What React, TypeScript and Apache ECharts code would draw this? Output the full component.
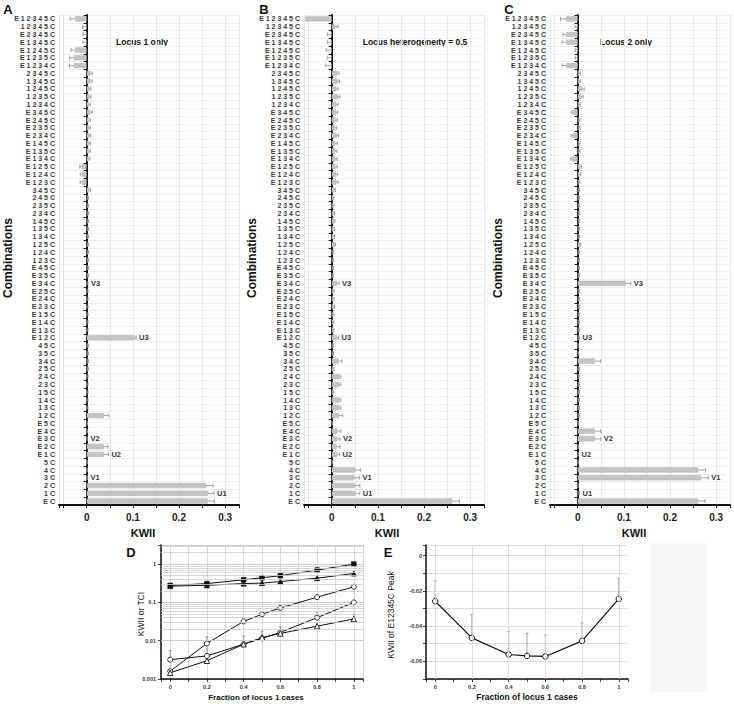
import React, { useEffect, useRef } from "react";
import * as echarts from "echarts";

const FONT = '"Liberation Sans", Arial, sans-serif';

// ---------- Panels A, B, C ----------
const combinations = [
  "E12345C", "12345C", "E2345C", "E1345C", "E1245C", "E1235C", "E1234C",
  "2345C", "1345C", "1245C", "1235C", "1234C",
  "E345C", "E245C", "E235C", "E234C", "E145C", "E135C", "E134C", "E125C", "E124C", "E123C",
  "345C", "245C", "235C", "234C", "145C", "135C", "134C", "125C", "124C", "123C",
  "E45C", "E35C", "E34C", "E25C", "E24C", "E23C", "E15C", "E14C", "E13C", "E12C",
  "45C", "35C", "34C", "25C", "24C", "23C", "15C", "14C", "13C", "12C",
  "E5C", "E4C", "E3C", "E2C", "E1C",
  "5C", "4C", "3C", "2C", "1C",
  "EC",
];

const kwiiLocus1Only = [
  -0.025, -0.001, -0.001, -0.001, -0.025, -0.028, -0.028,
  0.008, 0.008, 0.006, 0.006, 0.005,
  0.008, 0.005, 0.005, 0.006, 0.005, 0.005, 0.004, -0.011, -0.01, -0.01,
  0.005, 0.002, 0.002, 0.002, 0.002, 0.002, 0.002, 0.002, 0.002, 0.002,
  0.002, 0.002, 0.001, 0.001, 0.001, 0.001, 0.001, 0.001, 0.001, 0.104,
  0.002, 0.002, 0.002, 0.002, 0.001, 0.001, 0.001, 0.001, 0.001, 0.037,
  0.001, 0.001, 0.001, 0.037, 0.038,
  0.0005, 0.0005, 0.001, 0.258, 0.263,
  0.262,
];
const errLocus1Only = [
  0.011, 0.008, 0.007, 0.007, 0.009, 0.009, 0.009,
  0.004, 0.004, 0.003, 0.003, 0.003,
  0.004, 0.003, 0.003, 0.003, 0.003, 0.003, 0.003, 0.004, 0.004, 0.004,
  0.003, 0.002, 0.002, 0.002, 0.002, 0.002, 0.002, 0.002, 0.002, 0.002,
  0.002, 0.002, 0.002, 0.002, 0.002, 0.002, 0.002, 0.002, 0.002, 0.003,
  0.002, 0.002, 0.002, 0.002, 0.002, 0.002, 0.002, 0.002, 0.002, 0.011,
  0.001, 0.001, 0.001, 0.009, 0.009,
  0.001, 0.001, 0.001, 0.016, 0.013,
  0.015,
];

const kwiiHeterogeneity = [
  -0.057, 0.007, -0.001, -0.001, -0.001, -0.001, -0.001,
  0.012, 0.013, 0.01, 0.014, 0.01,
  0.009, 0.008, 0.007, 0.011, 0.008, 0.007, 0.008, 0.008, 0.009, 0.01,
  0.006, 0.003, 0.003, 0.004, 0.005, 0.004, 0.004, 0.006, 0.002, 0.002,
  0.002, 0.002, 0.012, 0.003, 0.003, 0.004, 0.003, 0.003, 0.003, 0.011,
  0.002, 0.002, 0.015, 0.003, 0.017, 0.017, 0.003, 0.017, 0.017, 0.016,
  0.001, 0.012, 0.012, 0.011, 0.012,
  0.001, 0.051, 0.049, 0.051, 0.051,
  0.261,
];
const errHeterogeneity = [
  0, 0.007, 0.008, 0.008, 0.011, 0.009, 0.012,
  0.004, 0.004, 0.004, 0.004, 0.004,
  0.004, 0.004, 0.004, 0.004, 0.004, 0.004, 0.004, 0.004, 0.004, 0.004,
  0.002, 0.002, 0.002, 0.002, 0.002, 0.002, 0.002, 0.002, 0.002, 0.002,
  0.002, 0.002, 0.004, 0.002, 0.002, 0.002, 0.002, 0.002, 0.002, 0.004,
  0.002, 0.002, 0.007, 0.002, 0.003, 0.003, 0.002, 0.003, 0.003, 0.008,
  0.001, 0.008, 0.006, 0.007, 0.005,
  0.001, 0.011, 0.011, 0.01, 0.01,
  0.016,
];

const kwiiLocus2Only = [
  -0.025, -0.001, -0.025, -0.025, -0.001, -0.001, -0.025,
  0.003, 0.003, 0.009, 0.008, 0.003,
  -0.011, 0.002, 0.002, -0.011, 0.002, 0.002, -0.012, 0.005, 0.003, 0.002,
  0.002, 0.002, 0.002, 0.002, 0.002, 0.002, 0.002, 0.005, 0.002, 0.002,
  0.002, 0.002, 0.104, 0.002, 0.002, 0.002, 0.002, 0.002, 0.002, 0.002,
  0.001, 0.001, 0.037, 0.002, 0.002, 0.002, 0.002, 0.002, 0.002, 0.002,
  0.001, 0.037, 0.037, 0.001, 0.001,
  0.001, 0.261, 0.267, 0.001, 0.001,
  0.261,
];
const errLocus2Only = [
  0.012, 0.005, 0.007, 0.009, 0.005, 0.005, 0.009,
  0.003, 0.003, 0.005, 0.004, 0.003,
  0.003, 0.003, 0.003, 0.003, 0.003, 0.003, 0.003, 0.003, 0.003, 0.003,
  0.002, 0.002, 0.002, 0.002, 0.002, 0.002, 0.002, 0.002, 0.002, 0.002,
  0.002, 0.002, 0.011, 0.002, 0.002, 0.002, 0.002, 0.002, 0.002, 0.002,
  0.001, 0.001, 0.013, 0.002, 0.002, 0.002, 0.002, 0.002, 0.002, 0.002,
  0.001, 0.013, 0.013, 0.001, 0.001,
  0.001, 0.016, 0.016, 0.001, 0.003,
  0.015,
];

const markedCombinations = ["E34C", "E12C", "E3C", "E1C", "3C", "1C"];
const markNames = ["V3", "U3", "V2", "U2", "V1", "U1"];
const barTickLabels = ["0", "0.1", "0.2", "0.3"];
const panelLetters = ["A", "B", "C"];
const panelNotes = ["Locus 1 only", "Locus heterogeneity = 0.5", "Locus 2 only"];

// ---------- Panels D, E ----------
const fractions = [0, 0.2, 0.4, 0.5, 0.6, 0.8, 1];
const dFilledSquares = [0.278, 0.31, 0.39, 0.44, 0.5, 0.7, 1.0];
const dFilledTriangles = [0.267, 0.28, 0.31, 0.32, 0.35, 0.43, 0.57];
const dOpenCirclesUpper = [0.0016, 0.0085, 0.032, 0.049, 0.072, 0.137, 0.256];
const dOpenCirclesLower = [0.0032, 0.004, 0.0081, 0.0115, 0.0165, 0.04, 0.1];
const dOpenTriangles = [0.00145, 0.003, 0.0081, 0.012, 0.0155, 0.024, 0.037];
const dOpenCirclesUpperErr = [null, 0.0126, null, 0.057, null, null, null];
const dOpenCirclesLowerErr = [0.0055, 0.0061, 0.0132, 0.0178, 0.023, 0.057, null];
const dOpenTrianglesErr = [null, null, null, null, null, null, 0.0495];
const dTickLabels = ["0.001", "0.01", "0.1", "1"];
const fractionTickLabels = ["0", "0.2", "0.4", "0.6", "0.8", "1"];

const ePeak = [-0.0259, -0.0467, -0.0561, -0.0569, -0.0572, -0.0484, -0.0246];
const ePeakErrTop = [-0.0143, -0.0334, -0.0432, -0.0441, -0.045, -0.0381, -0.0131];
const eTickLabels = ["-0.06", "-0.04", "-0.02", "0"];

function spaced(s: string) {
  return s.split("").join(" ");
}

function buildOption() {
  const barPanels = [
    { vals: kwiiLocus1Only, errs: errLocus1Only, left: 59 },
    { vals: kwiiHeterogeneity, errs: errHeterogeneity, left: 304 },
    { vals: kwiiLocus2Only, errs: errLocus2Only, left: 550 },
  ];

  const grid: any[] = barPanels.map((p) => ({ left: p.left, top: 15, width: 180, height: 490 }));
  grid.push({ left: 161, top: 545, width: 202, height: 134 });
  grid.push({ left: 426, top: 545, width: 202, height: 134 });

  const xAxis: any[] = [];
  const yAxis: any[] = [];
  const series: any[] = [];

  barPanels.forEach((p, i) => {
    xAxis.push({
      gridIndex: i,
      type: "value",
      min: -0.06,
      max: 0.33,
      splitNumber: 8,
      axisLine: { show: true, onZero: false, lineStyle: { color: "#111", width: 2 } },
      axisTick: { show: true, length: 3, lineStyle: { color: "#111", width: 1 } },
      axisLabel: {
        fontSize: 10,
        fontWeight: "bold",
        color: "#222",
        fontFamily: FONT,
        margin: 7,
        formatter: (v: number) => {
          const s = String(+v.toFixed(4));
          return barTickLabels.includes(s) ? s : "";
        },
      },
      splitLine: { show: true, lineStyle: { color: "#e8e8e8", width: 1 } },
    });
    yAxis.push({
      gridIndex: i,
      type: "category",
      inverse: true,
      data: combinations.map(spaced),
      axisLine: { show: true, lineStyle: { color: "#111", width: 2 } },
      axisTick: { show: true, length: 3, lineStyle: { color: "#111", width: 1 } },
      axisLabel: {
        interval: 0,
        fontSize: 7,
        fontWeight: "bold",
        color: "#3a3a3a",
        fontFamily: FONT,
        margin: 4,
        padding: [8, 0, 0, 0],
      },
      splitLine: { show: true, lineStyle: { color: "#efefef", width: 1 } },
    });
    series.push({
      type: "bar",
      xAxisIndex: i,
      yAxisIndex: i,
      data: p.vals,
      barWidth: "66%",
      itemStyle: { color: "#c3c3c3", borderColor: "#b0b0b0", borderWidth: 0.5 },
      z: 2,
    });
    series.push({
      type: "custom",
      xAxisIndex: i,
      yAxisIndex: i,
      z: 3,
      encode: { x: 0, y: 1 },
      data: p.vals.map((v, k) => [v, k, p.errs[k]]),
      renderItem: (params: any, api: any) => {
        const v = api.value(0);
        const k = api.value(1);
        const e = api.value(2);
        const end = v + (v < 0 ? -e : e);
        const a = api.coord([v, k]);
        const b = api.coord([end, k]);
        const children: any[] = [];
        if (e > 0) {
          children.push({
            type: "line",
            shape: { x1: a[0], y1: a[1], x2: b[0], y2: b[1] },
            style: { stroke: "#8c8c8c", lineWidth: 0.8 },
          });
          children.push({
            type: "line",
            shape: { x1: b[0], y1: b[1] - 2, x2: b[0], y2: b[1] + 2 },
            style: { stroke: "#8c8c8c", lineWidth: 0.8 },
          });
        }
        const mi = markedCombinations.indexOf(combinations[params.dataIndex]);
        if (mi >= 0) {
          const t = api.coord([Math.max(v, end, 0), k]);
          children.push({
            type: "text",
            x: t[0] + 3,
            y: t[1],
            style: {
              text: markNames[mi],
              fill: "#333",
              font: `bold 7.5px ${FONT}`,
              textAlign: "left",
              textVerticalAlign: "middle",
            },
          });
        }
        return { type: "group", children };
      },
    });
  });

  // Panel D axes
  xAxis.push({
    gridIndex: 3,
    type: "value",
    min: -0.05,
    max: 1.05,
    splitNumber: 11,
    axisLine: { show: true, onZero: false, lineStyle: { color: "#111", width: 1.5 } },
    axisTick: { show: true, length: 3, lineStyle: { color: "#111", width: 0.8 } },
    axisLabel: {
      fontSize: 5.5,
      fontWeight: "bold",
      color: "#333",
      fontFamily: FONT,
      margin: 5,
      formatter: (v: number) => {
        const s = String(+v.toFixed(4));
        return fractionTickLabels.includes(s) ? s : "";
      },
    },
    splitLine: { show: true, lineStyle: { color: "#cfcfcf", width: 0.8 } },
  });
  yAxis.push({
    gridIndex: 3,
    type: "log",
    logBase: 10,
    min: 0.001,
    max: 3.16,
    axisLine: { show: true, onZero: false, lineStyle: { color: "#111", width: 1.5 } },
    axisTick: { show: true, length: 3, lineStyle: { color: "#111", width: 0.8 } },
    axisLabel: {
      fontSize: 5.5,
      fontWeight: "bold",
      color: "#333",
      fontFamily: FONT,
      margin: 5,
      formatter: (v: number) => {
        const s = String(+v.toPrecision(6));
        return dTickLabels.includes(s) ? s : "";
      },
    },
    splitLine: { show: true, lineStyle: { color: "#bdbdbd", width: 0.8 } },
  });

  // Panel E axes
  xAxis.push({
    gridIndex: 4,
    type: "value",
    min: -0.05,
    max: 1.05,
    splitNumber: 11,
    axisLine: { show: true, onZero: false, lineStyle: { color: "#111", width: 1.5 } },
    axisTick: { show: true, length: 3, lineStyle: { color: "#111", width: 0.8 } },
    axisLabel: {
      fontSize: 5.5,
      fontWeight: "bold",
      color: "#333",
      fontFamily: FONT,
      margin: 5,
      formatter: (v: number) => {
        const s = String(+v.toFixed(4));
        return fractionTickLabels.includes(s) ? s : "";
      },
    },
    splitLine: { show: false },
  });
  yAxis.push({
    gridIndex: 4,
    type: "value",
    min: -0.07,
    max: 0.006,
    interval: 0.01,
    axisLine: { show: true, onZero: false, lineStyle: { color: "#111", width: 1.5 } },
    axisTick: { show: true, length: 3, lineStyle: { color: "#111", width: 0.8 } },
    axisLabel: {
      fontSize: 5.5,
      fontWeight: "bold",
      color: "#333",
      fontFamily: FONT,
      margin: 4,
      formatter: (v: number) => {
        const s = String(+v.toFixed(4));
        return eTickLabels.includes(s) ? s : "";
      },
    },
    splitLine: { show: true, lineStyle: { color: "#d4d4d4", width: 0.8 } },
  });

  // D minor log grid lines
  const logMinor: number[] = [];
  [0.001, 0.01, 0.1, 1].forEach((d) => {
    for (let m = 2; m <= 9; m++) {
      const v = +(d * m).toPrecision(3);
      if (v < 3.16) logMinor.push(v);
    }
  });
  series.push({
    type: "line",
    xAxisIndex: 3,
    yAxisIndex: 3,
    data: [],
    z: 1,
    markLine: {
      silent: true,
      symbol: ["none", "none"],
      label: { show: false },
      lineStyle: { color: "#cdcdcd", width: 0.8, type: "solid" },
      data: logMinor.map((v) => ({ yAxis: v })),
    },
  });

  const dSeries = [
    { vals: dFilledSquares, symbol: "rect", fill: "#111", size: 4.5 },
    { vals: dFilledTriangles, symbol: "triangle", fill: "#111", size: 5 },
    { vals: dOpenCirclesUpper, symbol: "circle", fill: "#fff", size: 5 },
    { vals: dOpenCirclesLower, symbol: "circle", fill: "#fff", size: 5 },
    { vals: dOpenTriangles, symbol: "triangle", fill: "#fff", size: 5.5 },
  ];
  const vErrRender = (params: any, api: any) => {
    const x = api.value(0);
    const lo = api.value(1);
    const hi = api.value(2);
    const a = api.coord([x, lo]);
    const b = api.coord([x, hi]);
    return {
      type: "group",
      children: [
        { type: "line", shape: { x1: a[0], y1: a[1], x2: b[0], y2: b[1] }, style: { stroke: "#888", lineWidth: 0.8 } },
        { type: "line", shape: { x1: b[0] - 1.5, y1: b[1], x2: b[0] + 1.5, y2: b[1] }, style: { stroke: "#888", lineWidth: 0.8 } },
      ],
    };
  };
  const dErrData: number[][] = [];
  [
    [dOpenCirclesUpper, dOpenCirclesUpperErr],
    [dOpenCirclesLower, dOpenCirclesLowerErr],
    [dOpenTriangles, dOpenTrianglesErr],
  ].forEach(([vals, errs]: any) => {
    fractions.forEach((f, i) => {
      if (errs[i] != null) dErrData.push([f, vals[i], errs[i]]);
    });
  });
  series.push({
    type: "custom",
    xAxisIndex: 3,
    yAxisIndex: 3,
    z: 2,
    encode: { x: 0, y: [1, 2] },
    data: dErrData,
    renderItem: vErrRender,
  });
  dSeries.forEach((s) => {
    series.push({
      type: "line",
      xAxisIndex: 3,
      yAxisIndex: 3,
      z: 3,
      data: fractions.map((f, i) => [f, s.vals[i]]),
      symbol: s.symbol,
      symbolSize: s.size,
      showAllSymbol: true,
      lineStyle: { color: "#111", width: 1 },
      itemStyle: { color: s.fill, borderColor: "#111", borderWidth: 0.9 },
    });
  });

  // Panel E
  series.push({
    type: "line",
    xAxisIndex: 4,
    yAxisIndex: 4,
    data: [],
    z: 1,
    markLine: {
      silent: true,
      symbol: ["none", "none"],
      label: { show: false },
      lineStyle: { color: "#d4d4d4", width: 0.8, type: "solid" },
      data: fractionTickLabels.map((t) => ({ xAxis: Number(t) })),
    },
  });
  series.push({
    type: "custom",
    xAxisIndex: 4,
    yAxisIndex: 4,
    z: 2,
    encode: { x: 0, y: [1, 2] },
    data: fractions.map((f, i) => [f, ePeak[i], ePeakErrTop[i]]),
    renderItem: vErrRender,
  });
  series.push({
    type: "line",
    xAxisIndex: 4,
    yAxisIndex: 4,
    z: 3,
    data: fractions.map((f, i) => [f, ePeak[i]]),
    symbol: "circle",
    symbolSize: 5.5,
    lineStyle: { color: "#111", width: 1.2 },
    itemStyle: { color: "#fff", borderColor: "#111", borderWidth: 1 },
  });

  const txt = (text: string, x: number, y: number, font: string, extra: any = {}) => ({
    type: "text",
    x,
    y,
    silent: true,
    ...extra,
    style: { text, font, fill: extra.fill || "#111", textAlign: "center", textVerticalAlign: "middle" },
  });

  const graphic: any[] = [
    { type: "rect", shape: { x: 650, y: 542, width: 57, height: 150 }, style: { fill: "#f8f8f8" }, z: -1, silent: true },
  ];
  const letterX = [8, 264, 509];
  const noteX = [142, 415, 626];
  const combX = [8, 252, 498];
  const kwiiX = [143, 387, 634];
  panelLetters.forEach((l, i) => {
    graphic.push(txt(l, letterX[i], 9, `bold 13px ${FONT}`));
    graphic.push(txt(panelNotes[i], noteX[i], 42, `bold 8.5px ${FONT}`));
    graphic.push(txt("Combinations", combX[i], 258, `bold 12px ${FONT}`, { rotation: Math.PI / 2 }));
    graphic.push(txt("KWII", kwiiX[i], 533, `bold 11px ${FONT}`));
  });
  graphic.push(txt("D", 131, 552, `bold 13px ${FONT}`));
  graphic.push(txt("E", 388, 552, `bold 13px ${FONT}`));
  graphic.push(txt("KWII or TCI", 141, 614, `8.5px ${FONT}`, { rotation: Math.PI / 2 }));
  graphic.push(txt("KWII of E12345C Peak", 391, 615, `8.5px ${FONT}`, { rotation: Math.PI / 2 }));
  graphic.push(txt("Fraction of locus 1 cases", 256, 697, `bold 8px ${FONT}`));
  graphic.push(txt("Fraction of locus 1 cases", 527, 697, `bold 8.5px ${FONT}`));

  return {
    animation: false,
    backgroundColor: "#fff",
    textStyle: { fontFamily: FONT },
    grid,
    xAxis,
    yAxis,
    series,
    graphic,
  };
}

export default function App() {
  const ref = useRef<HTMLDivElement>(null);
  useEffect(() => {
    const chart = echarts.init(ref.current!, null, { renderer: "svg" });
    chart.setOption(buildOption() as any);
    return () => chart.dispose();
  }, []);
  return (
    <div
      ref={ref}
      style={{ position: "absolute", left: 0, top: 0, width: 734, height: 704, background: "#fff" }}
    />
  );
}
